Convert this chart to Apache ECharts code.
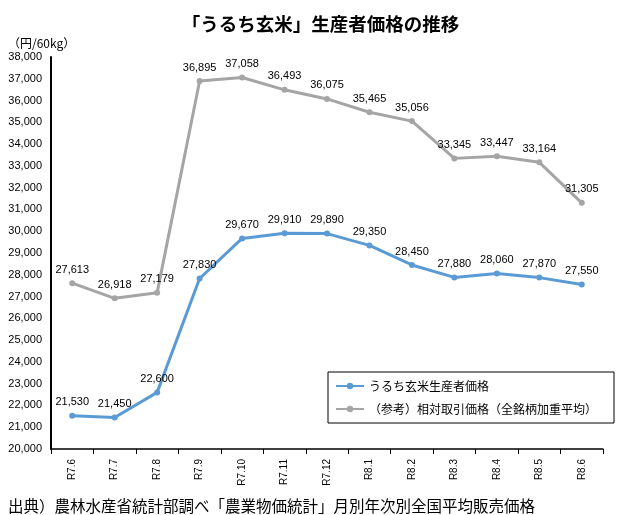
<!DOCTYPE html>
<html>
<head>
<meta charset="utf-8">
<script src="https://cdn.jsdelivr.net/npm/echarts@6/dist/echarts.min.js"></script>
<style>
  html, body { margin: 0; padding: 0; background: #fff; }
  #chart { width: 641px; height: 515px; }
</style>
</head>
<body>
<div id="chart"></div>
<script>
// うるち玄米 生産者価格の推移
const months = ['R7.6', 'R7.7', 'R7.8', 'R7.9', 'R7.10', 'R7.11', 'R7.12', 'R8.1', 'R8.2', 'R8.3', 'R8.4', 'R8.5', 'R8.6'];
const producerPrice = [21530, 21450, 22600, 27830, 29670, 29910, 29890, 29350, 28450, 27880, 28060, 27870, 27550];
const relativePrice = [27613, 26918, 27179, 36895, 37058, 36493, 36075, 35465, 35056, 33345, 33447, 33164, 31305];

const FONT = '"Noto Sans CJK JP", "Noto Sans", sans-serif';
const NUM_FONT = '"Liberation Sans", Arial, sans-serif';
const fmt = v => v.toLocaleString('en-US');

const chart = echarts.init(document.getElementById('chart'));

const labelStyle = {
  show: true, position: 'top', distance: 5,
  formatter: p => fmt(p.value), fontSize: 11, color: '#000', fontFamily: NUM_FONT,
};

chart.setOption({
  animation: false,
  textStyle: { fontFamily: FONT },
  title: [
    { text: '「うるち玄米」生産者価格の推移', left: 'center', top: 10,
      textStyle: { fontSize: 18.5, fontWeight: 'bold', color: '#000', fontFamily: FONT } },
    { text: '（円/60kg）', left: 3, top: 32,
      textStyle: { fontSize: 12, fontWeight: 'normal', color: '#000', fontFamily: FONT } },
    { text: '出典）農林水産省統計部調べ「農業物価統計」月別年次別全国平均販売価格', left: 3, top: 493,
      textStyle: { fontSize: 15.5, fontWeight: 'normal', color: '#000', fontFamily: FONT } },
  ],
  legend: {
    orient: 'vertical', left: 328, top: 372,
    padding: [8, 17, 8, 7], itemGap: 11,
    itemWidth: 28, itemHeight: 8,
    borderColor: '#000', borderWidth: 1,
    textStyle: { fontSize: 12, color: '#000', fontFamily: FONT },
    data: ['うるち玄米生産者価格', '（参考）相対取引価格（全銘柄加重平均）'],
  },
  grid: { left: 51, right: 38, top: 57, bottom: 66 },
  xAxis: {
    type: 'category', data: months, boundaryGap: true,
    axisLine: { lineStyle: { color: '#000', width: 1.5 } },
    axisTick: { show: true, interval: 0, lineStyle: { color: '#000' }, length: 5 },
    axisLabel: { rotate: 90, interval: 0, fontSize: 10, color: '#000', margin: 10, fontFamily: NUM_FONT },
  },
  yAxis: {
    type: 'value', min: 20000, max: 38000, interval: 1000,
    axisLine: { show: true, lineStyle: { color: '#000', width: 2 } },
    axisTick: { show: false },
    splitLine: { show: false },
    axisLabel: { formatter: fmt, fontSize: 11, color: '#000', margin: 9, fontFamily: NUM_FONT },
  },
  series: [
    {
      name: 'うるち玄米生産者価格', type: 'line', data: producerPrice,
      symbol: 'circle', symbolSize: 6,
      lineStyle: { color: '#5B9BD5', width: 3 },
      itemStyle: { color: '#5B9BD5' },
      label: labelStyle,
    },
    {
      name: '（参考）相対取引価格（全銘柄加重平均）', type: 'line', data: relativePrice,
      symbol: 'circle', symbolSize: 6,
      lineStyle: { color: '#A5A5A5', width: 3 },
      itemStyle: { color: '#A5A5A5' },
      label: labelStyle,
    },
  ],
});
</script>
</body>
</html>
